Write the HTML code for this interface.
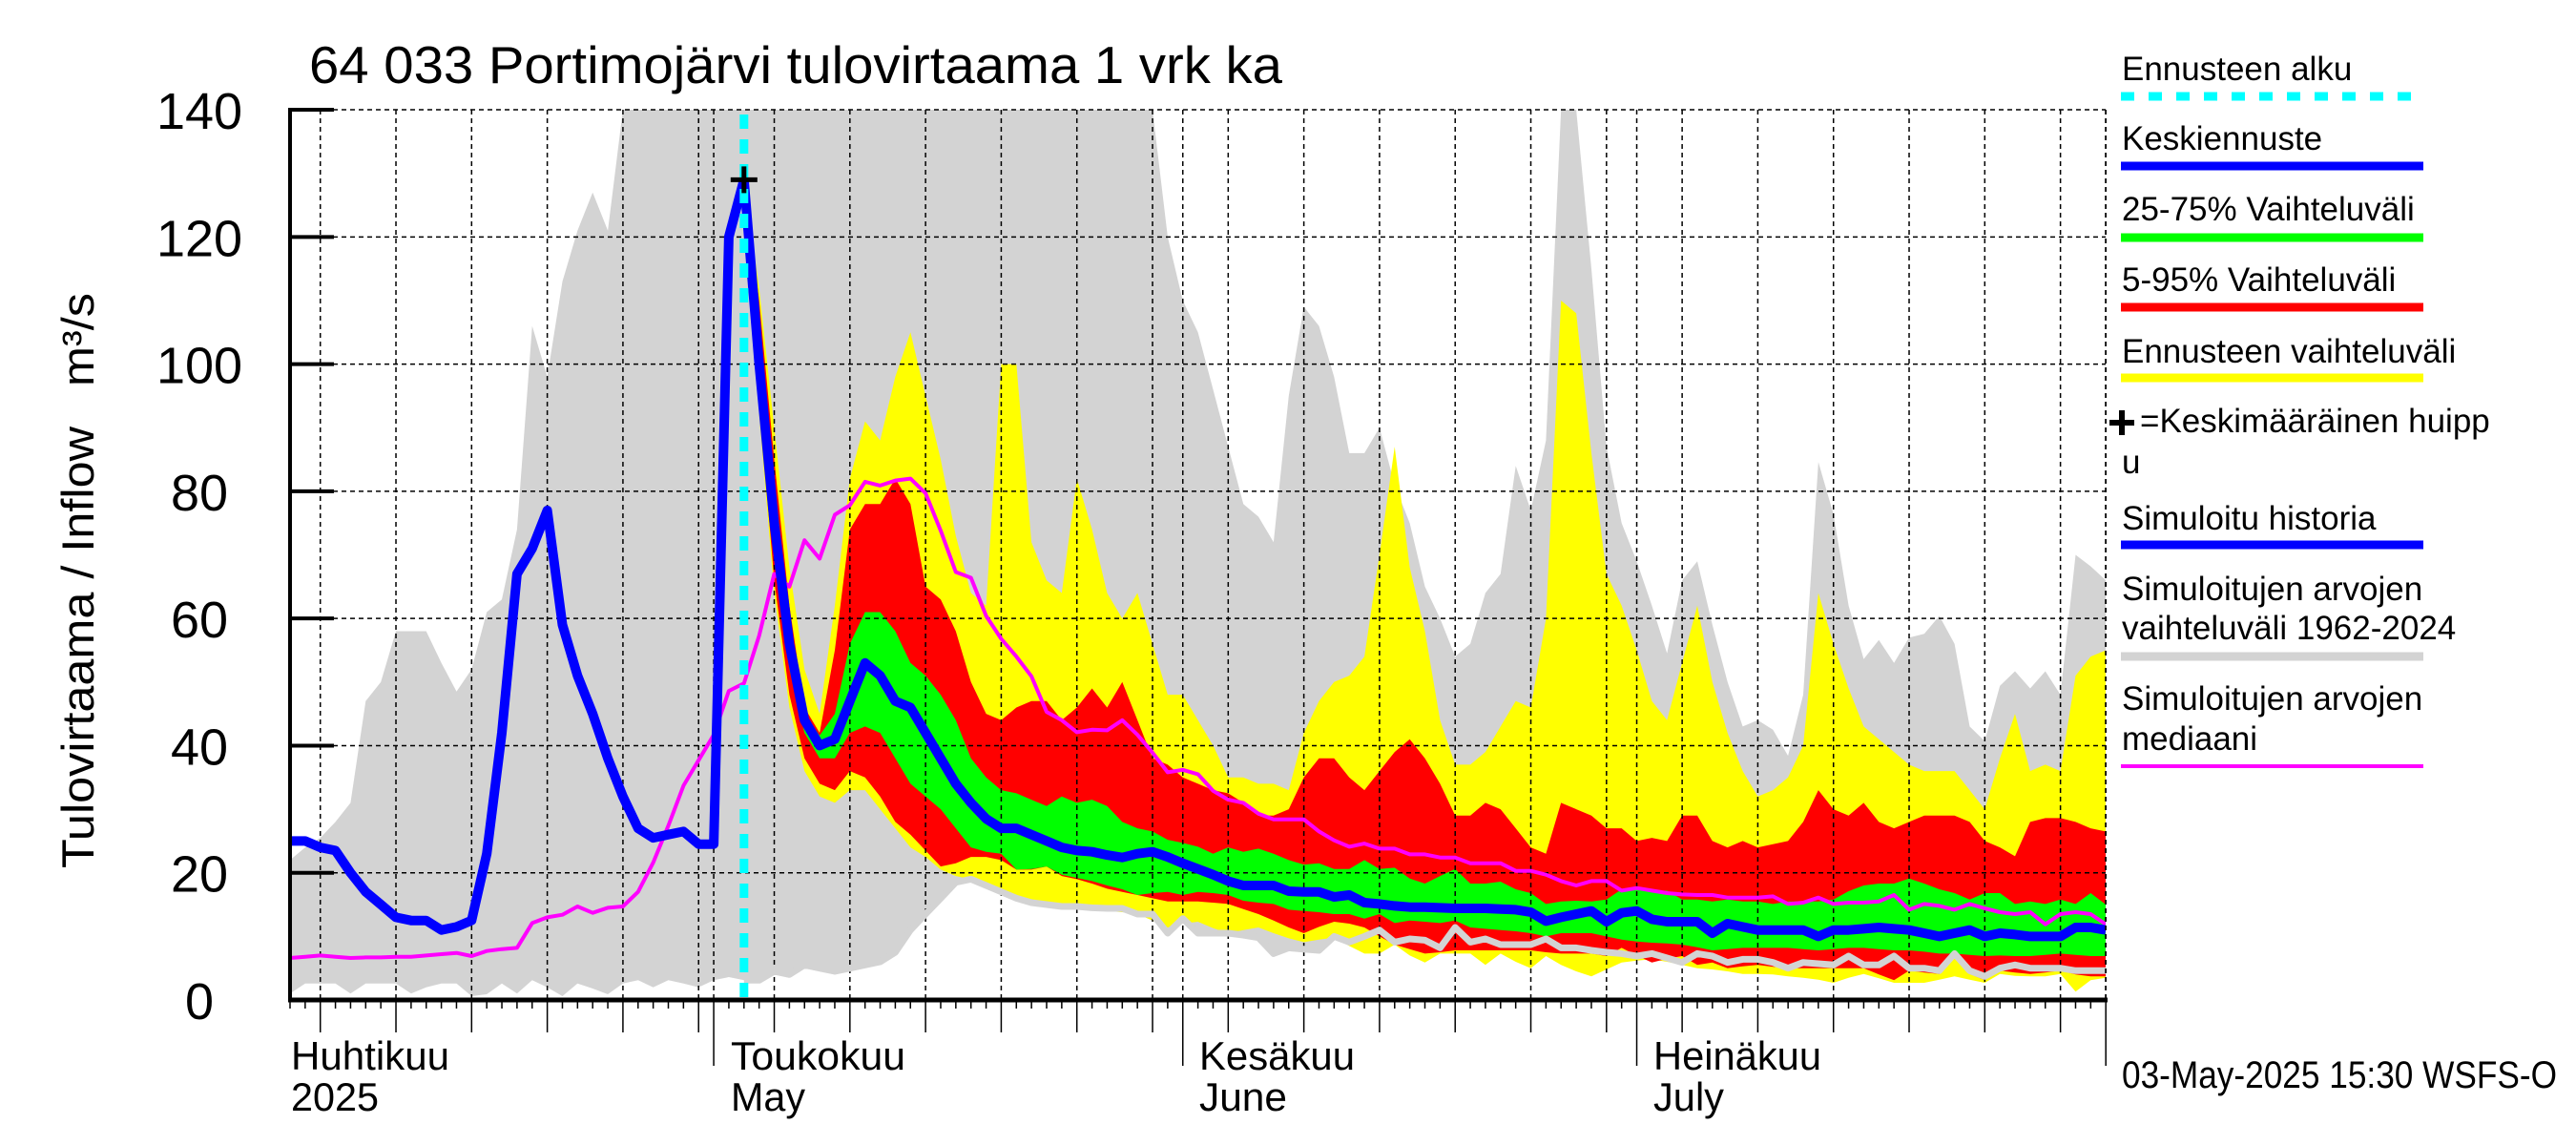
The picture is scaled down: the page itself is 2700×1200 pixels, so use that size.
<!DOCTYPE html>
<html><head><meta charset="utf-8"><title>Portimojärvi tulovirtaama</title>
<style>html,body{margin:0;padding:0;background:#fff}svg{display:block}text{font-family:"Liberation Sans",Arial,sans-serif;fill:#000}</style>
</head><body>
<svg id="chart" width="2700" height="1200" viewBox="0 0 2700 1200" xmlns="http://www.w3.org/2000/svg">
<defs><clipPath id="pc"><rect x="304" y="115" width="1903" height="933"/></clipPath></defs>
<rect x="0" y="0" width="2700" height="1200" fill="#fff"/>
<g id="fills" clip-path="url(#pc)"></g>
<g id="grid"></g>
<g id="lines" clip-path="url(#pc)"></g>
<g id="axes"></g>
<text x="324" y="87" font-size="55" textLength="1020" lengthAdjust="spacingAndGlyphs">64 033 Portimojärvi tulovirtaama 1 vrk ka</text>
<text transform="translate(98,910) rotate(-90)" font-size="47" textLength="603" lengthAdjust="spacingAndGlyphs" xml:space="preserve">Tulovirtaama / Inflow   m³/s</text>
<g>
<text x="305" y="1121" font-size="42" textLength="166" lengthAdjust="spacingAndGlyphs">Huhtikuu</text>
<text x="305" y="1164" font-size="42" textLength="92" lengthAdjust="spacingAndGlyphs">2025</text>
<text x="766" y="1121" font-size="42" textLength="183" lengthAdjust="spacingAndGlyphs">Toukokuu</text>
<text x="766" y="1164" font-size="42" textLength="78" lengthAdjust="spacingAndGlyphs">May</text>
<text x="1257" y="1121" font-size="42" textLength="163" lengthAdjust="spacingAndGlyphs">Kesäkuu</text>
<text x="1257" y="1164" font-size="42" textLength="92" lengthAdjust="spacingAndGlyphs">June</text>
<text x="1733" y="1121" font-size="42" textLength="176" lengthAdjust="spacingAndGlyphs">Heinäkuu</text>
<text x="1733" y="1164" font-size="42" textLength="74" lengthAdjust="spacingAndGlyphs">July</text>
</g>
<text x="2224" y="1140" font-size="40" textLength="456" lengthAdjust="spacingAndGlyphs">03-May-2025 15:30 WSFS-O</text>
<g>
<text x="2224" y="84" font-size="35">Ennusteen alku</text>
<line x1="2223" y1="101" x2="2540" y2="101" stroke="#00ffff" stroke-width="9" stroke-dasharray="14 15"/>
<text x="2224" y="157" font-size="35">Keskiennuste</text>
<line x1="2223" y1="174" x2="2540" y2="174" stroke="#0000ff" stroke-width="9"/>
<text x="2224" y="231" font-size="35">25-75% Vaihteluväli</text>
<line x1="2223" y1="249" x2="2540" y2="249" stroke="#00ff00" stroke-width="9"/>
<text x="2224" y="305" font-size="35">5-95% Vaihteluväli</text>
<line x1="2223" y1="322" x2="2540" y2="322" stroke="#ff0000" stroke-width="9"/>
<text x="2224" y="380" font-size="35">Ennusteen vaihteluväli</text>
<line x1="2223" y1="396" x2="2540" y2="396" stroke="#ffff00" stroke-width="9"/>
<path d="M2211 443 H2237 M2224 430 V456" stroke="#000" stroke-width="6"/>
<text x="2243" y="453" font-size="35">=Keskimääräinen huipp</text>
<text x="2224" y="496" font-size="35">u</text>
<text x="2224" y="555" font-size="35">Simuloitu historia</text>
<line x1="2223" y1="571" x2="2540" y2="571" stroke="#0000ff" stroke-width="9"/>
<text x="2224" y="629" font-size="35">Simuloitujen arvojen</text>
<text x="2224" y="670" font-size="35">vaihteluväli 1962-2024</text>
<line x1="2223" y1="688" x2="2540" y2="688" stroke="#d3d3d3" stroke-width="9"/>
<text x="2224" y="744" font-size="35">Simuloitujen arvojen</text>
<text x="2224" y="786" font-size="35">mediaani</text>
<line x1="2223" y1="803" x2="2540" y2="803" stroke="#ff00ff" stroke-width="4"/>
</g>
</svg>
<script>
// ---- data (day index: days since 1 April 2025) ----
const histStart = 2;
const fcStart = 32;
const yTicks = [0, 20, 40, 60, 80, 100, 120, 140];
const histFlow = [25,25,24,23.5,20,17,15,13,12.5,12.5,11,11.5,12.5,23,42,67,71,77,59,51,45,38,32,27,25.5,26,26.5,24.5,24.5,120,129];
const simMax = [22,24,25.5,28,31,47,50,58,58,58,53,48.5,52,61,63,74,106,98,113,121,127,121,140,140,140,140,140,140,140,140,140,140,140,140,140,140,140,140,140,140,140,140,140,140,140,140,140,140,140,140,140,140,140,140,140,140,140,140,120,110,105,96,87,78,76,72,95,109,106,98,86,86,90,81,75,65,60,54,56,64,67,84,77,88,140,140,115,87,75,69,62,54.5,66,69,59,50,43,44,42.5,38.4,48,84.6,76.4,62,53.6,56.6,53,57,57.6,60.4,56,43,40.7,49.4,51.7,49,51.7,48,70,68.2,66];
const simMin = [1,2.6,2.6,2.6,1,2.6,2.6,2.6,1,2,2.6,2.6,0.6,0.9,2.6,1,3.1,2,0.6,2.6,1.8,0.9,2.6,3.1,2,3.1,2.6,2,3.1,3.6,3.1,3.1,4.5,4,5.5,5,4.5,5,5.5,6,7.5,11,13.5,16,18.5,19,18,17,16,15.3,15,14.7,14.7,14.5,14.4,14.4,13.5,13.5,10.5,12.8,10.5,10.5,10.5,10.2,9.8,7.3,8.2,8,7.8,10,9.1,10,11,9.1,9.6,9.4,8.2,11.4,9.1,9.6,8.7,8.7,8.7,9.6,8.2,8.2,7.8,7.5,7.3,6.9,7.3,6.6,5.9,7.3,6.9,5.9,6.4,6.4,5.9,5,5.9,5.7,5.5,6.9,5.5,5.5,6.9,5,5,4.6,7.3,4.6,3.7,5,5.5,5,5,5,4.6,4.6,4.6];
const simMedian = [6.6,6.8,7,6.8,6.6,6.7,6.7,6.8,6.8,7,7.2,7.4,6.9,7.7,8,8.2,12.1,13,13.4,14.7,13.7,14.5,14.7,17,21.6,27.4,33.7,37.7,41.7,48.6,49.8,57.3,67,65,72.3,69.4,76.3,77.8,81.5,80.9,81.7,82,79.7,73.8,67.3,66.4,60.4,56.8,54,50.9,45.3,44,42.1,42.5,42.4,44,41.7,38.9,35.8,36.2,35.5,32.9,31.5,31,29.3,28.4,28.4,28.4,26.5,25.1,24.1,24.6,23.8,23.8,22.9,22.9,22.4,22.4,21.5,21.5,21.5,20.3,20.3,19.7,18.7,18,18.7,18.7,17.2,17.6,17.2,16.8,16.6,16.5,16.5,16.1,16.1,16.1,16.3,15.1,15.3,16.1,15.1,15.3,15.3,15.5,16.5,14.2,15.1,14.8,14.2,15.1,14.4,13.8,13.5,13.8,11.9,13.5,13.8,13.5,11.9];
const fcMax = [129,112,90,68,52,45,62,82,91,88,98,105,95,85,73,64,62,100,100,72,66,64,82,74,64,60,64,56,48,48,44,40,35,35,34,34,33,42,47,50,51,54,70,87,68,58,44,37,37,39,43,47,46,60,110,108,86,67,62,55,47,44,53,62,50,42,36,32,33,35,40,64,56,49,43,41,39,37,36,36,36,33,30,38,45,36,37,36,51,54,55];
const fcP95 = [129,110,85,62,46,42,55,74,78,78,82,78,65,63,58,50,45,44,46,47,47,44,46,49,46,50,44,38,37,35,34,33,32.5,31,29,29,30,35,38,38,35,33,36,39,41,38,34,29,29,31,30,27,24,23,31,30,29,27,27,25,25.5,25,29,29,25,24,25,24,24.5,25,28,33,30,29,31,28,27,28,29,29,29,28,25,24,22.6,28,28.6,28.6,28,27,26.5];
const fcP75 = [129,108,82,60,45,41.6,45,56,61,61,58,53,51,48,44,38,35,33,32.5,31.5,30.5,32,31,31.5,30.5,28,27,26.5,25.2,24.7,24.1,23,24,23.3,23.8,23,22,21.3,21.5,20.6,20.6,22,20.6,20.8,19.1,18.3,19.5,20.6,18.3,18.3,18.6,17.4,16.8,15.1,15.5,15.6,15.5,15.8,17.4,17.4,17.1,17.2,15.8,15.8,15.5,15.8,15.5,15.5,15.1,15.5,15.5,15.5,15.8,17.1,18,18.3,18.3,19.1,18.3,17.4,16.8,15.8,16.8,16.8,15.1,15.5,15.1,15.8,15.1,16.8,15];
const fcMean = [129,100,75,56,44,40,41,47,53,51,47,46,42,38,34,31,28.5,27,27,26,25,24,23.5,23.3,22.8,22.4,23,23.3,22.5,21.5,20.6,19.7,18.7,18,18,18,17.1,17,17,16.2,16.5,15.3,15.1,14.8,14.6,14.6,14.5,14.4,14.4,14.4,14.3,14.2,13.8,12.4,13,13.5,14,12.3,13.7,14,12.7,12.3,12.3,12.3,10.5,12,11.5,11,11,11,11,10,11,11,11.2,11.4,11.2,11,10.5,10,10.5,11,10,10.5,10.3,10,10,10,11.4,11.4,11];
const fcP25 = [129,96,70,52,42,38,38,42,43,42,38,34,32,30,27,24,23.3,23,20.5,20.6,21,19.7,19.2,18.7,18,17.4,16.5,16.8,17,16.5,17,16.8,16.5,15.6,15.3,15.1,14.2,14,13.8,13.5,13.5,12.8,13.5,12.1,12.5,12.3,12.1,12.5,11.4,11.2,11,10.8,10.5,10,10.5,10.5,10.5,10,9.5,9.2,9,8.9,8.7,8.3,7.8,8,8.2,8.2,8.2,8.2,8,7.8,8,8.2,8.2,8,7.8,7.8,7.6,7.3,7.3,7.1,6.9,7,6.9,6.9,7.1,7.3,7.1,6.9,6.9];
const fcP5 = [129,94,66,48,38,34,33,36,35,32,28,26,23.5,21,21.5,22.5,22.5,22,20.5,20.5,21,19.5,19,18.3,17.5,17,16.5,16,15.5,15.5,15.5,15.3,15.1,14.3,13.5,12.5,11.4,10.5,11.5,12.3,12,11.4,10,8.7,8,7.3,7.5,7.8,7.8,7.8,7.8,7.8,7.8,7.5,7.3,7.3,7.3,6.9,8.2,7,5.9,6.5,6.9,5.5,5.9,5,5.3,5.5,5.2,5,5,5,5,5,5,4,3.1,4.6,4.3,4.1,7.3,4.1,3.1,4.6,4.3,4.1,4.3,4.6,4,3.7,3.7];
const fcMin = [129,92,64,46,36,32,31,33,33,30,27,24,22.5,20.5,19.5,19,18.3,17.5,16,15.8,15.5,15.1,14.8,14.4,14,13.8,13.5,12.5,11.4,12,12.3,11.3,10.5,11,11.4,10.5,9.7,9.1,9.5,9.8,8.5,7.3,7.3,8.7,7,5.9,7.3,7.3,7.3,5.5,7.3,6,5,6.9,5.5,4.5,3.7,4.8,5.9,6.2,6.4,6,5.5,5,4.8,4.5,4.1,4.1,4,3.7,3.5,3.2,2.7,3.5,4.1,3.4,2.7,2.7,2.7,3.2,3.7,3.2,2.7,4.1,3.8,3.7,3.7,4.1,1.3,3.1,3.5];
const meanPeak = [129];
const monthDays = [30, 61, 91, 122];

// ---- scales ----
const NS = 'http://www.w3.org/2000/svg';
function X(d){ return 304 + (d - 2) * 15.86; }
function Y(v){ return 1048 - v * 6.664; }
function mk(tag, attrs, parent){
  const e = document.createElementNS(NS, tag);
  for (const k in attrs) e.setAttribute(k, attrs[k]);
  parent.appendChild(e);
  return e;
}
function pts(arr, start){ return arr.map((v,i)=>X(start+i).toFixed(1)+','+Y(v).toFixed(1)); }
function band(up, lo, start, color, name, parent){
  const p = pts(up, start).concat(pts(lo, start).reverse());
  const e = mk('polygon', {points: p.join(' '), fill: color}, parent);
  
  
}
function line(arr, start, color, w, name, parent){
  const e = mk('polyline', {points: pts(arr, start).join(' '), fill:'none', stroke: color, 'stroke-width': w, 'stroke-linejoin':'round'}, parent);
  
  
}
const fills = document.getElementById('fills');
const grid = document.getElementById('grid');
const lines = document.getElementById('lines');
const axes = document.getElementById('axes');

band(simMax, simMin, histStart, '#d3d3d3', 'historical-range-band', fills);
band(fcMax, fcMin, fcStart, '#ffff00', 'forecast-range-band', fills);
band(fcP95, fcP5, fcStart, '#ff0000', 'band-5-95', fills);
band(fcP75, fcP25, fcStart, '#00ff00', 'band-25-75', fills);

// grid
for (let i = 1; i < yTicks.length; i++){
  const g = mk('line', {x1: 304, x2: 2207, y1: Y(yTicks[i]), y2: Y(yTicks[i]), stroke:'#000', 'stroke-width':1.5, 'stroke-dasharray':'5 4'}, grid);
  
  
}
for (let d = 4; d <= 122; d += 5){
  const g = mk('line', {x1: X(d), x2: X(d), y1: 115, y2: 1048, stroke:'#000', 'stroke-width':1.5, 'stroke-dasharray':'5 4'}, grid);
  
  
}
monthDays.forEach(d => {
  const g = mk('line', {x1: X(d), x2: X(d), y1: 115, y2: 1048, stroke:'#000', 'stroke-width':1.5, 'stroke-dasharray':'5 4'}, grid);
  
  
});

// lines
line(simMin.slice(fcStart - histStart), fcStart, '#d3d3d3', 7, 'historical-min-line', lines);
line(simMedian, histStart, '#ff00ff', 4, 'historical-median-line', lines);
line(fcMean, fcStart, '#0000ff', 10, 'mean-forecast-line', lines);
line(histFlow, histStart, '#0000ff', 10, 'simulated-history-line', lines);
const cy = mk('line', {x1: X(fcStart), x2: X(fcStart), y1: 120, y2: 1048, stroke:'#00ffff', 'stroke-width':9, 'stroke-dasharray':'15 11'}, lines);


const pk = mk('path', {d: 'M'+(X(fcStart)-14)+' '+Y(meanPeak[0])+' H'+(X(fcStart)+14)+' M'+X(fcStart)+' '+(Y(meanPeak[0])-14)+' V'+(Y(meanPeak[0])+14), stroke:'#000', 'stroke-width':5}, lines);



// axes
const la = mk('line', {x1: 304, x2: 304, y1: 113, y2: 1050, stroke:'#000', 'stroke-width':4}, axes);


const ba = mk('line', {x1: 302, x2: 2209, y1: 1048, y2: 1048, stroke:'#000', 'stroke-width':5}, axes);


const rb = mk('line', {x1: 2207, x2: 2207, y1: 115, y2: 1048, stroke:'#000', 'stroke-width':1.5, 'stroke-dasharray':'5 4'}, axes);


yTicks.forEach(v => {
  const t = mk('line', {x1: 304, x2: 350, y1: Y(v), y2: Y(v), stroke:'#000', 'stroke-width':4}, axes);
  
  
  const l = mk('text', {x: 209, y: Y(v) + 20, 'font-size': 54, 'text-anchor':'middle'}, axes);
  l.textContent = String(v);
  
  
});
for (let d = 2; d <= 122; d++){
  let y2 = 1057;
  if ((d - 4) % 5 === 0) y2 = 1082;
  if (monthDays.indexOf(d) >= 0) y2 = 1117;
  const t = mk('line', {x1: X(d), x2: X(d), y1: 1048, y2: y2, stroke:'#000', 'stroke-width':1.5}, axes);
  
  
}
</script>
</body></html>
